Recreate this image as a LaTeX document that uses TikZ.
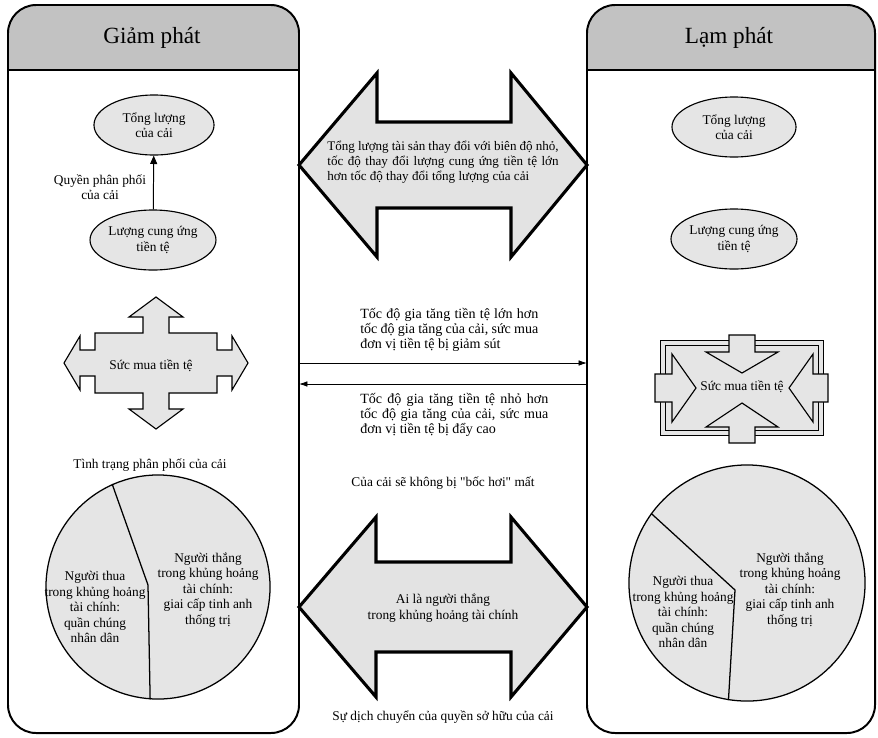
\documentclass[tikz,border=0pt]{standalone}
\usepackage{fontspec}
\setmainfont{Liberation Serif}[Ligatures=TeXOff]
\usetikzlibrary{arrows.meta,shapes.geometric}

\begin{document}
\begin{tikzpicture}[x=0.025cm, y=-0.025cm,
    lbl/.style={font=\fontsize{9.5}{11}\selectfont, align=center, inner sep=0},
    jtxt/.style={font=\fontsize{10}{10.8}\selectfont, align=justify, inner sep=0},
    title/.style={font=\fontsize{16.5}{19}\selectfont, inner sep=0},
    panel/.style={line width=1.4pt, rounded corners=20pt},
    bigarrow/.style={line width=2.2pt, fill=gray!22, line join=miter},
    blob/.style={ellipse, draw, line width=0.8pt, fill=gray!20, minimum width=3cm,
        minimum height=1.5cm, inner sep=0, lbl},
    starshape/.style={draw, line width=0.8pt, fill=gray!20},
    pie/.style={circle, draw, line width=0.9pt, fill=gray!20, inner sep=0},
    thinarrow/.style={line width=0.6pt, -{Latex[length=6pt,width=4pt]}}]
    \fill[white] (0,0) rectangle (878,737);
    \useasboundingbox (0,0) rectangle (878,737);

    % panels
    \begin{scope}
        \clip[rounded corners=20pt] (8,5) rectangle (299,733);
        \fill[gray!48] (8,5) rectangle (299,70);
    \end{scope}
    \begin{scope}
        \clip[rounded corners=20pt] (587,5) rectangle (875,733);
        \fill[gray!48] (587,5) rectangle (875,70);
    \end{scope}
    \draw[panel] (8,5) rectangle (299,733);
    \draw[panel] (587,5) rectangle (875,733);
    \draw[line width=1.4pt] (8,70) -- (299,70);
    \draw[line width=1.4pt] (587,70) -- (875,70);
    \node[title] (giam) at (152,38) {Giảm phát};
    \node[title] (lam) at (729,38) {Lạm phát};

    % big double arrows
    \draw[bigarrow] (299,165) -- (377,73) -- (377,122) -- (511,122) -- (511,73) -- (587,165)
        -- (511,257) -- (511,208) -- (377,208) -- (377,257) -- cycle;
    \node[jtxt, font=\fontsize{9.3}{10.8}\selectfont, text width=5.78cm] (sizeTxt) at (443,162)
        {Tổng lượng tài sản thay đổi với biên độ nhỏ,\linebreak
        tốc độ thay đổi lượng cung ứng tiền tệ lớn\linebreak hơn tốc độ thay đổi tổng lượng của cải};
    \draw[bigarrow] (299,607) -- (376,517) -- (376,562) -- (511,562) -- (511,517) -- (587,607)
        -- (511,697) -- (511,652) -- (376,652) -- (376,697) -- cycle;
    \node[lbl] (winnerTxt) at (443,608) {Ai là người thắng\\ trong khủng hoảng tài chính};
    \node[lbl] (keepTxt) at (443,483) {Của cải sẽ không bị "bốc hơi" mất};
    \node[lbl] (moveTxt) at (443,717) {Sự dịch chuyển của quyền sở hữu của cải};

    % ellipses
    \node[blob] (wealthL) at (154,125) {Tổng lượng\\ của cải};
    \node[blob, minimum width=3.1cm] (supplyL) at (153,240) {Lượng cung ứng\\ tiền tệ};
    \draw[line width=0.7pt, -{Triangle[length=6pt,width=5pt]}] (supplyL) -- (wealthL);
    \node[lbl] (shareTxt) at (100,187) {Quyền phân phối\\ của cải};
    \node[blob, minimum width=3.1cm] (wealthR) at (734,127) {Tổng lượng\\ của cải};
    \node[blob, minimum width=3.15cm] (supplyR) at (734,239) {Lượng cung ứng\\ tiền tệ};

    % middle connectors
    \coordinate (gUp) at (299,363);
    \coordinate (lUp) at (587,363);
    \coordinate (gDown) at (299,384);
    \coordinate (lDown) at (587,384);
    \draw[thinarrow] (gUp) -- (lUp);
    \draw[thinarrow] (lDown) -- (gDown);
    \node[jtxt, text width=4.45cm, anchor=west] (fasterTxt) at (360,330)
        {Tốc độ gia tăng tiền tệ lớn hơn\linebreak
        tốc độ gia tăng của cải, sức mua\linebreak đơn vị tiền tệ bị giảm sút};
    \node[jtxt, text width=4.7cm, anchor=west] (slowerTxt) at (360,415)
        {Tốc độ gia tăng tiền tệ nhỏ hơn\linebreak
        tốc độ gia tăng của cải, sức mua\linebreak đơn vị tiền tệ bị đẩy cao};

    % purchasing power, outward
    \draw[starshape, shift={(156,363)}] (0,-66) -- (27,-46) -- (13,-46) -- (13,-30) -- (61,-30)
        -- (61,-13) -- (76,-13) -- (76,-27) -- (92,0) -- (76,27) -- (76,13) -- (61,13) -- (61,30)
        -- (13,30) -- (13,46) -- (27,46) -- (0,66) -- (-27,46) -- (-13,46) -- (-13,30) -- (-61,30)
        -- (-61,13) -- (-76,13) -- (-76,27) -- (-92,0) -- (-76,-27) -- (-76,-13) -- (-61,-13)
        -- (-61,-30) -- (-13,-30) -- (-13,-46) -- (-27,-46) -- cycle;
    \node[lbl] (powerL) at (151,366) {Sức mua tiền tệ};

    % purchasing power, inward
    \begin{scope}[shift={(742,388)}]
        \draw[starshape, double=gray!20, double distance=2.5pt] (-79,-45) rectangle (79,45);
        \draw[starshape] (-13,-53) -- (13,-53) -- (13,-36) -- (36,-36) -- (0,-15) -- (-36,-36)
            -- (-13,-36) -- cycle;
        \draw[starshape] (-13,55) -- (13,55) -- (13,39) -- (36,39) -- (0,15) -- (-36,39)
            -- (-13,39) -- cycle;
        \draw[starshape] (-87,-14) -- (-87,14) -- (-70,14) -- (-70,34) -- (-46,0) -- (-70,-34)
            -- (-70,-14) -- cycle;
        \draw[starshape] (86,-14) -- (86,14) -- (71,14) -- (71,34) -- (47,0) -- (71,-34)
            -- (71,-14) -- cycle;
    \end{scope}
    \node[lbl] (powerR) at (742,387) {Sức mua tiền tệ};

    % distribution
    \node[lbl] (distTxt) at (150,465) {Tình trạng phân phối của cải};
    \node[pie, minimum size=5.6cm] (pieL) at (158,587) {};
    \draw[line width=0.9pt] (pieL.114) -- (148,585) -- (pieL.-94);
    \node[lbl] (loseL) at (95,607) {Người thua\\ trong khủng hoảng\\ tài chính:\\ quần chúng\\ nhân dân};
    \node[lbl] (winL) at (208,590) {Người thắng\\ trong khủng hoảng\\ tài chính:\\ giai cấp tinh anh\\ thống trị};
    \node[pie, minimum size=5.9cm] (pieR) at (747,583) {};
    \draw[line width=0.9pt] (pieR.144) -- (735,590) -- (pieR.-99);
    \node[lbl] (loseR) at (683,612) {Người thua\\ trong khủng hoảng\\ tài chính:\\ quần chúng\\ nhân dân};
    \node[lbl] (winR) at (790,590) {Người thắng\\ trong khủng hoảng\\ tài chính:\\ giai cấp tinh anh\\ thống trị};
\end{tikzpicture}
\end{document}
